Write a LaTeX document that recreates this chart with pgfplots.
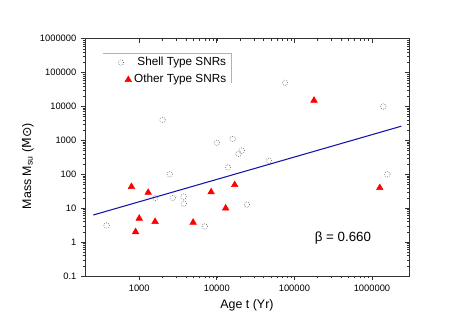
\documentclass[border=0pt]{standalone}
\usepackage{fontspec}
\setmainfont{Liberation Sans}
\newfontfamily\dejavu{DejaVu Sans}
\usepackage{pgfplots}
\pgfplotsset{compat=1.18}
\definecolor{fitblue}{RGB}{20,20,170}

\begin{document}
\begin{tikzpicture}
\pgfplotsset{
  snrbase/.style={
    scale only axis, width=243pt, height=178pt,
    at={(0,0)}, anchor=south west,
    xmin=200, xmax=3e6, ymin=0.1, ymax=1e6,
    major tick length=3pt, minor tick length=1.8pt,
    axis line style={line width=0.6pt, black!80},
    every tick/.style={black!80, line width=0.5pt},
    every minor tick/.style={black!80, line width=0.4pt},
    xtick={1000,10000,100000,1000000},
    ytick={0.1,1,10,100,1000,10000,100000,1000000},
  }
}
\begin{loglogaxis}[
  snrbase,
  tick align=outside,
  xtick pos=bottom, ytick pos=left,
  xticklabels={1000,10000,100000,1000000},
  yticklabels={0.1,1,10,100,1000,10000,100000,1000000},
  tick label style={font=\fontsize{7}{8}\selectfont},
  xlabel={Age t (Yr)},
  ylabel={Mass M\textsubscript{su} ({\dejavu M⊙})},
  label style={font=\fontsize{9.3}{10}\selectfont},
  xlabel style={at={(rel axis cs:0.5,-0.122)}, anchor=center},
  ylabel style={at={(rel axis cs:-0.176,0.463)}, anchor=center},
  legend style={at={(rel axis cs:0.457,0.945)}, anchor=north east,
    draw=none, fill=none, font=\fontsize{8.8}{10}\selectfont,
    row sep=1pt},
  legend cell align=right,
]
\addplot[only marks, mark=o, mark size=2pt, gray!80!black, mark options={line width=0.5pt, densely dotted},
  legend image post style={xshift=-10pt}]
  coordinates {(380,3.1) (2000,4000) (2480,100) (1610,20) (2710,20) (3730,22)
  (3760,13.6) (7000,2.9) (10000,850) (16000,1100) (13900,160) (19000,400)
  (21000,500) (24500,12.7) (46800,250) (75900,50000) (1.4e6,10000) (1.58e6,100)};
\addlegendentry{Shell Type SNRs}
\addplot[only marks, mark=triangle*, mark size=2.8pt, red, mark options={fill=red},
  legend image post style={xshift=-4.5pt}]
  coordinates {(794,43) (897,2) (1000,5) (1305,29) (1600,4) (4950,3.8)
  (8450,30) (13000,10) (17000,49) (179000,15100) (1.26e6,40)};
\addlegendentry{Other Type SNRs}
\addplot[fitblue, line width=0.8pt, forget plot] coordinates {(256,6.3) (2.39e6,2620)};
\draw[gray!60, line width=0.6pt] (rel axis cs:0.056,0.938) -- (rel axis cs:0.451,0.938) -- (rel axis cs:0.451,0.813);
\node[font=\fontsize{10}{12}\selectfont] at (rel axis cs:0.796,0.160) {β = 0.660};
\end{loglogaxis}
\begin{loglogaxis}[
  snrbase,
  tick align=inside,
  xtick pos=top, ytick pos=right,
  xticklabels={}, yticklabels={},
]
\end{loglogaxis}
\pgfresetboundingbox
\path (-63.75pt,-42pt) rectangle (293.25pt,207pt);
\end{tikzpicture}
\end{document}
